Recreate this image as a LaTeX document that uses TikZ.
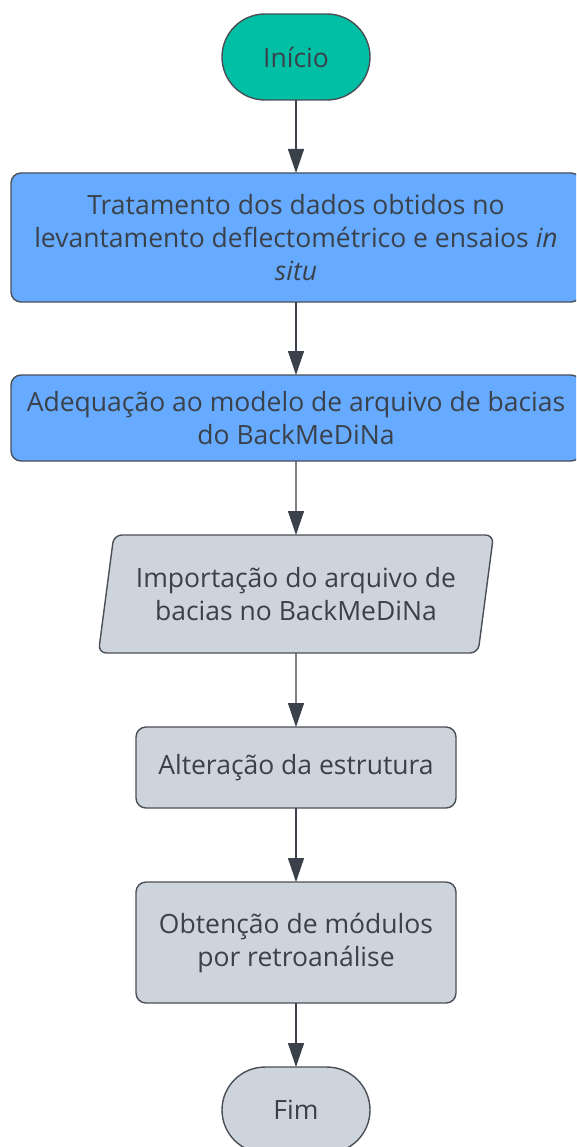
\documentclass[tikz,border=0pt]{standalone}
\usepackage{fontspec}
\setsansfont{Open Sans}
\usetikzlibrary{shapes.geometric, arrows.meta, positioning}
\usepackage{xcolor}
\definecolor{tealStart}{HTML}{00BFA5}
\definecolor{stepBlue}{HTML}{66ABFF}
\definecolor{stepGray}{HTML}{CED4DC}
\definecolor{edgeGray}{HTML}{4A4F57}
\definecolor{txtGray}{HTML}{3A414A}
\tikzset{
    font=\sffamily\fontsize{26.5}{33}\selectfont,
    >={Triangle[width=16pt,length=24pt]},
    % Colors
    compTeal/.style={draw=edgeGray, fill=tealStart},
    compBlue/.style={draw=edgeGray, fill=stepBlue},
    compGray/.style={draw=edgeGray, fill=stepGray},
    % Shapes
    terminal/.style={rectangle, line width=1.4pt, rounded corners=43pt, outer sep=0pt,
                 minimum width=148pt, minimum height=86pt, align=center, text=txtGray},
    comp/.style={rectangle, line width=1.4pt, rounded corners=10pt, outer sep=0pt,
                 inner sep=2pt, align=center, text=txtGray},
    inout/.style={trapezium, trapezium left angle=77, trapezium right angle=103,
                 trapezium stretches=true, line width=1.4pt, rounded corners=8pt, outer sep=0pt,
                 minimum width=397pt, minimum height=118pt, align=center, text=txtGray},
    % Flow
    flow/.style={->, line width=1.4pt, txtGray}
}

\begin{document}
\begin{tikzpicture}[node distance=73pt]
\useasboundingbox (0pt,0pt) rectangle (576pt,-1147pt);
\clip (0pt,0pt) rectangle (576pt,-1147pt);

\node[terminal, compTeal] (inicio) at (296pt,-57pt) {Início};
\node[comp, compBlue, minimum width=570pt, minimum height=129pt, below=of inicio] (trat)
    {Tratamento dos dados obtidos no\\levantamento deflectométrico e ensaios \textit{in}\\\textit{situ}};
\node[comp, compBlue, minimum width=570pt, minimum height=86pt, below=of trat] (adeq)
    {Adequação ao modelo de arquivo de bacias\\do BackMeDiNa};
\node[inout, compGray, below=74pt of adeq] (import)
    {Importação do arquivo de\\bacias no BackMeDiNa};
\node[comp, compGray, minimum width=320pt, minimum height=81pt, below=74pt of import] (alter)
    {Alteração da estrutura};
\node[comp, compGray, minimum width=320pt, minimum height=121pt, below=74pt of alter] (obten)
    {Obtenção de módulos\\por retroanálise};
\node[terminal, compGray, below=64pt of obten] (fim) {Fim};

\draw[flow] (inicio) -- (trat);
\draw[flow] (trat) -- (adeq);
\draw[flow] (adeq) -- (import);
\draw[flow] (import) -- (alter);
\draw[flow] (alter) -- (obten);
\draw[flow] (obten) -- (fim);

\end{tikzpicture}
\end{document}
